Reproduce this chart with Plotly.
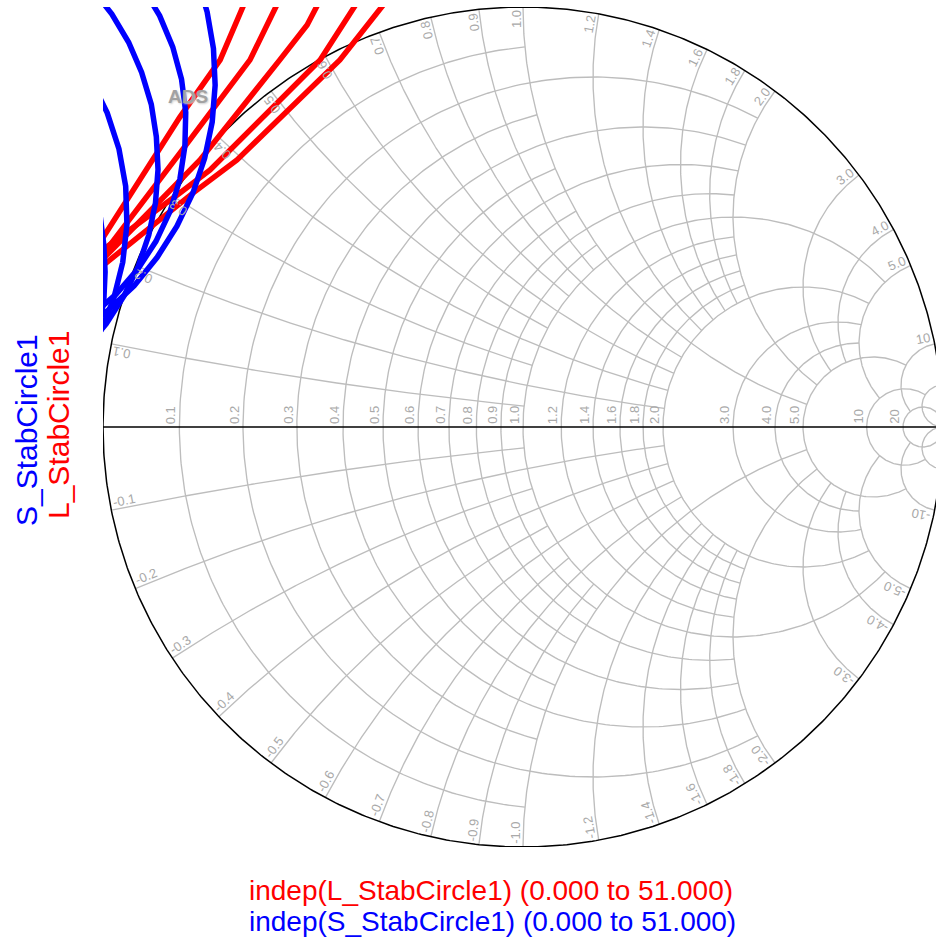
import math
import numpy as np
import plotly.graph_objects as go

# ---------------------------------------------------------------------------
# Smith chart grid: normalized resistance circles and reactance arcs.
# Each circle/arc is only drawn up to the listed limit of the other
# coordinate (None = drawn all the way).
# ---------------------------------------------------------------------------
R_VALUES = [0.1, 0.2, 0.3, 0.4, 0.5, 0.6, 0.7, 0.8, 0.9, 1.0,
            1.2, 1.4, 1.6, 1.8, 2.0, 3.0, 4.0, 5.0, 10.0, 20.0]
R_LIMITS = [1.0, 2.0, 1.0, 2.0, 1.0, 2.0, 1.0, 2.0, 1.0, 5.0,
            2.0, 2.0, 2.0, 2.0, 5.0, 5.0, 5.0, 10.0, 20.0, None]
R_TICKS = ["0.1", "0.2", "0.3", "0.4", "0.5", "0.6", "0.7", "0.8", "0.9", "1.0",
           "1.2", "1.4", "1.6", "1.8", "2.0", "3.0", "4.0", "5.0", "10", "20"]

X_VALUES = [0.1, 0.2, 0.3, 0.4, 0.5, 0.6, 0.7, 0.8, 0.9, 1.0,
            1.2, 1.4, 1.6, 1.8, 2.0, 3.0, 4.0, 5.0, 10.0, 20.0]
X_LIMITS = [1.0, 2.0, 1.0, 2.0, 1.0, 2.0, 1.0, 2.0, 1.0, 5.0,
            2.0, 2.0, 2.0, 2.0, 5.0, 5.0, 5.0, 10.0, 20.0, None]
X_TICKS = ["0.1", "0.2", "0.3", "0.4", "0.5", "0.6", "0.7", "0.8", "0.9", "1.0",
           "1.2", "1.4", "1.6", "1.8", "2.0", "3.0", "4.0", "5.0", "10", "20"]

# ---------------------------------------------------------------------------
# Stability circles (reflection coefficient, real / imaginary part),
# one polyline per frequency point.
# ---------------------------------------------------------------------------
S_STAB_RE = [
    [-1.027, -0.979, -0.939, -0.908, -0.885, -0.873, -0.869, -0.875, -0.891, -0.916, -0.950, -0.992, -1.042],
    [-0.906, -0.865, -0.834, -0.813, -0.803, -0.805, -0.817, -0.840, -0.874, -0.917, -0.970, -1.030],
    [-0.777, -0.752, -0.737, -0.733, -0.740, -0.758, -0.786, -0.824, -0.871, -0.926, -0.991, -1.061],
    [-1.030, -0.990, -0.962, -0.946, -0.943, -0.953, -0.975, -1.009],
    [-1.007, -0.998, -0.995, -0.998, -1.010],
]
S_STAB_IM = [
    [1.045, 0.983, 0.916, 0.844, 0.768, 0.691, 0.613, 0.534, 0.457, 0.383, 0.312, 0.246, 0.185],
    [1.047, 0.979, 0.905, 0.828, 0.749, 0.669, 0.590, 0.514, 0.442, 0.376, 0.315, 0.263],
    [1.072, 0.988, 0.901, 0.814, 0.726, 0.640, 0.557, 0.478, 0.404, 0.336, 0.275, 0.223],
    [0.830, 0.748, 0.662, 0.573, 0.482, 0.392, 0.304, 0.220],
    [0.505, 0.433, 0.369, 0.302, 0.231],
]

L_STAB_RE = [
    [-0.650, -0.721, -0.817, -1.007],
    [-0.569, -0.650, -0.817, -1.007],
    [-0.471, -0.514, -0.579, -0.769, -1.007],
    [-0.376, -0.483, -0.745, -0.817, -1.007],
    [-0.305, -0.436, -0.681, -0.786, -1.007],
]
L_STAB_IM = [
    [1.040, 0.874, 0.738, 0.440],
    [1.040, 0.874, 0.652, 0.402],
    [1.040, 0.957, 0.874, 0.636, 0.393],
    [1.040, 0.874, 0.612, 0.557, 0.417],
    [1.040, 0.874, 0.636, 0.557, 0.379],
]

S_NAME = "S_StabCircle1"
L_NAME = "L_StabCircle1"
S_SWEEP = "indep(S_StabCircle1) (0.000 to 51.000)"
L_SWEEP = "indep(L_StabCircle1) (0.000 to 51.000)"

# ---------------------------------------------------------------------------
# Geometry helpers
# ---------------------------------------------------------------------------
PX = 420.0            # pixels per unit of reflection coefficient
FONT = "Arial, Liberation Sans, Helvetica, sans-serif"
GRID_COLOR = "#bdbdbd"
LABEL_COLOR = "#a9a9a9"
LABEL_SIZE = 13


def gamma(z):
    return (z - 1) / (z + 1)


def r_circle(r, xlim, n=260):
    c, rho = r / (1 + r), 1 / (1 + r)
    if xlim is None:
        a0 = 0.0
    else:
        g = gamma(complex(r, xlim))
        a0 = math.atan2(g.imag, g.real - c)
    a = np.linspace(a0, 2 * np.pi - a0, n)
    return c + rho * np.cos(a), rho * np.sin(a)


def x_arc(x, rlim, n=220):
    # upper-half arc for a positive reactance x
    cy = rho = 1 / x
    g0 = gamma(complex(0, x))
    a0 = math.atan2(g0.imag - cy, g0.real - 1)
    if rlim is None:
        a1 = -np.pi / 2
    else:
        g1 = gamma(complex(rlim, x))
        a1 = math.atan2(g1.imag - cy, g1.real - 1)
    while a1 < a0:
        a1 += 2 * np.pi
    a = np.linspace(a0, a1, n)
    return 1 + rho * np.cos(a), cy + rho * np.sin(a)


def text_width(s, size):
    w = {".": 0.278, "-": 0.333}
    return sum(w.get(ch, 0.556) for ch in s) * size


gx, gy = [], []
for r, lim in zip(R_VALUES, R_LIMITS):
    cx, cy = r_circle(r, lim)
    gx += list(cx) + [None]
    gy += list(cy) + [None]
for x, lim in zip(X_VALUES, X_LIMITS):
    ax, ay = x_arc(x, lim)
    gx += list(ax) + [None] + list(ax) + [None]
    gy += list(ay) + [None] + list(-ay) + [None]

t = np.linspace(0, 2 * np.pi, 721)

fig = go.Figure()
fig.add_trace(go.Scatter(x=gx, y=gy, mode="lines",
                         line=dict(color=GRID_COLOR, width=1.35),
                         hoverinfo="skip"))
fig.add_trace(go.Scatter(x=[-1, 1], y=[0, 0], mode="lines",
                         line=dict(color="black", width=1.6), hoverinfo="skip"))
fig.add_trace(go.Scatter(x=np.cos(t), y=np.sin(t), mode="lines",
                         line=dict(color="black", width=1.5), hoverinfo="skip"))

for re_, im_ in zip(L_STAB_RE, L_STAB_IM):
    fig.add_trace(go.Scatter(x=re_, y=im_, mode="lines", name=L_NAME,
                             line=dict(color="#ff0000", width=5.5)))
for re_, im_ in zip(S_STAB_RE, S_STAB_IM):
    fig.add_trace(go.Scatter(x=re_, y=im_, mode="lines", name=S_NAME,
                             line=dict(color="#0000ff", width=5.5)))

annotations = []
label_font = dict(family=FONT, size=LABEL_SIZE, color=LABEL_COLOR)

# resistance labels along the real axis
for r, txt in zip(R_VALUES, R_TICKS):
    w = text_width(txt, LABEL_SIZE)
    annotations.append(dict(
        x=(r - 1) / (r + 1), y=0, xref="x", yref="y", text=txt,
        showarrow=False, textangle=-90, xanchor="center", yanchor="middle",
        xshift=-8, yshift=3 + w / 2, font=label_font))

# reactance labels on the rim, written along each arc
for x, txt in zip(X_VALUES, X_TICKS):
    for sgn in (1, -1):
        xv = sgn * x
        label = txt if sgn > 0 else "-" + txt
        p = gamma(complex(0, xv))
        d_in = 2 / (1 + 1j * xv) ** 2
        d_in /= abs(d_in)
        d_read = -d_in if sgn > 0 else d_in
        ang = math.degrees(math.atan2(d_read.imag, d_read.real))
        nrm = d_read * 1j
        w = text_width(label, LABEL_SIZE)
        off = d_in * (3 + w / 2) + nrm * 7
        annotations.append(dict(
            x=p.real, y=p.imag, xref="x", yref="y", text=label,
            showarrow=False, textangle=-ang, xanchor="center", yanchor="middle",
            xshift=off.real, yshift=off.imag, font=label_font))

# ADS logo with a soft shadow
annotations.append(dict(x=-0.798, y=0.786, xref="x", yref="y", text="<b>ADS</b>",
                        showarrow=False,
                        font=dict(family=FONT, size=19, color="#a2a2a2",
                                  shadow="1px 1px 2px #cfcfcf")))

# trace names on the left, sweep ranges below
annotations.append(dict(x=-0.0924, y=0.4964, xref="paper", yref="paper",
                        text=S_NAME, showarrow=False, textangle=-90,
                        xanchor="center", yanchor="middle",
                        font=dict(family=FONT, size=30, color="#0000ff")))
annotations.append(dict(x=-0.0528, y=0.5024, xref="paper", yref="paper",
                        text=L_NAME, showarrow=False, textangle=-90,
                        xanchor="center", yanchor="middle",
                        font=dict(family=FONT, size=30, color="#ff0000")))
annotations.append(dict(x=0.1729, y=-0.0512, xref="paper", yref="paper",
                        text=L_SWEEP, showarrow=False,
                        xanchor="left", yanchor="middle",
                        font=dict(family=FONT, size=28, color="#ff0000")))
annotations.append(dict(x=0.1729, y=-0.0881, xref="paper", yref="paper",
                        text=S_SWEEP, showarrow=False,
                        xanchor="left", yanchor="middle",
                        font=dict(family=FONT, size=28, color="#0000ff")))

fig.update_layout(
    width=936, height=939,
    margin=dict(l=103, r=0, t=7, b=92, pad=0),
    paper_bgcolor="white", plot_bgcolor="white",
    showlegend=False,
    annotations=annotations,
    xaxis=dict(range=[-1, -1 + 833 / PX], visible=False, fixedrange=True),
    yaxis=dict(range=[-1, 1], visible=False, fixedrange=True),
)

fig.write_html("out.html")
